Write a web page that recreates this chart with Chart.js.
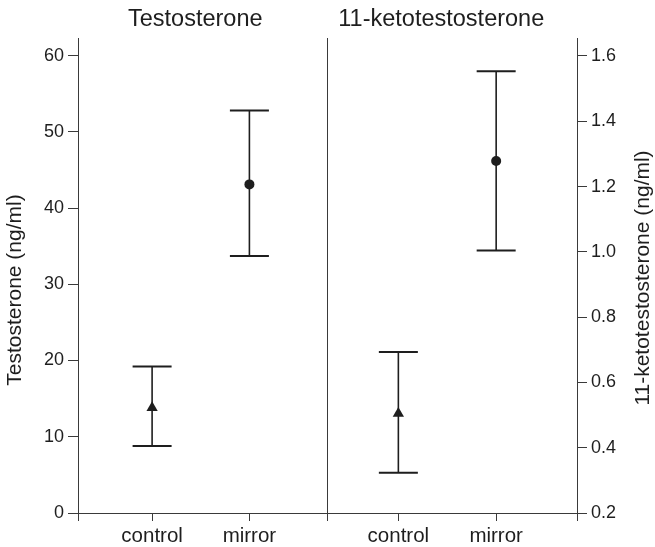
<!DOCTYPE html>
<html><head><meta charset="utf-8">
<script src="https://cdn.jsdelivr.net/npm/chart.js@4/dist/chart.umd.min.js"></script>
<style>html,body{margin:0;padding:0;background:#fff}#wrap{width:655px;height:547px}</style>
</head><body><div id="wrap"><canvas id="c" width="655" height="547"></canvas></div>
<script>
// ---- data ----
const categories = ['control', 'mirror'];
const panelTitles = ['Testosterone', '11-ketotestosterone'];
const axisTitles = ['Testosterone (ng/ml)', '11-ketotestosterone (ng/ml)'];
const leftX = [0.297, 0.687];
const rightX = [1.284, 1.676];
const xTickValues = [0, 0.297, 0.687, 1, 1.284, 1.676, 2];
const xTickLabels = ['', 'control', 'mirror', '', 'control', 'mirror', ''];
const testoMean = [13.8, 43.1];
const testoLow = [8.8, 33.7];
const testoHigh = [19.2, 52.8];
const ketoMean = [0.505, 1.278];
const ketoLow = [0.323, 1.004];
const ketoHigh = [0.693, 1.553];
const leftTicks = [0, 10, 20, 30, 40, 50, 60];
const rightTicks = [0.2, 0.4, 0.6, 0.8, 1.0, 1.2, 1.4, 1.6];
const markerStyles = ['triangle', 'circle'];

const INK = '#1e1e1e';
const AXIS = '#3a3a3a';
const FONT = "'Liberation Sans', Arial, Helvetica, sans-serif";

const errorBars = {
  id: 'errorBars',
  beforeDatasetsDraw(chart) {
    const ctx = chart.ctx;
    chart.data.datasets.forEach((ds, di) => {
      const meta = chart.getDatasetMeta(di);
      const ys = chart.scales[ds.yAxisID];
      ds.errLow.forEach((lo, i) => {
        const x = meta.data[i].x;
        const yl = ys.getPixelForValue(lo);
        const yh = ys.getPixelForValue(ds.errHigh[i]);
        ctx.save();
        ctx.strokeStyle = INK;
        ctx.lineWidth = 1.6;
        ctx.beginPath(); ctx.moveTo(x, yl); ctx.lineTo(x, yh); ctx.stroke();
        ctx.lineWidth = 2;
        ctx.beginPath();
        ctx.moveTo(x - 19.5, yl); ctx.lineTo(x + 19.5, yl);
        ctx.moveTo(x - 19.5, yh); ctx.lineTo(x + 19.5, yh);
        ctx.stroke();
        ctx.restore();
      });
    });
  }
};

const texts = {
  id: 'texts',
  afterDraw(chart) {
    const ctx = chart.ctx;
    const xs = chart.scales.x;
    ctx.save();
    ctx.fillStyle = INK;
    ctx.textAlign = 'center';
    ctx.textBaseline = 'middle';
    ctx.font = '23.5px ' + FONT;
    ctx.fillText(panelTitles[0], xs.getPixelForValue(0.47), 20);
    ctx.fillText(panelTitles[1], xs.getPixelForValue(1.456), 20);
    ctx.font = '21px ' + FONT;
    ctx.save();
    ctx.translate(15, 290);
    ctx.rotate(-Math.PI / 2);
    ctx.fillText(axisTitles[0], 0, 0);
    ctx.restore();
    ctx.save();
    ctx.translate(643, 278);
    ctx.rotate(-Math.PI / 2);
    ctx.fillText(axisTitles[1], 0, 0);
    ctx.restore();
    ctx.restore();
  }
};

new Chart(document.getElementById('c'), {
  type: 'scatter',
  data: {
    datasets: [
      {
        label: panelTitles[0],
        yAxisID: 'yL',
        data: leftX.map((x, i) => ({ x, y: testoMean[i] })),
        errLow: testoLow, errHigh: testoHigh,
        pointStyle: markerStyles,
        pointRadius: [6.5, 5],
        backgroundColor: INK, borderColor: INK, borderWidth: 0
      },
      {
        label: panelTitles[1],
        yAxisID: 'yR',
        data: rightX.map((x, i) => ({ x, y: ketoMean[i] })),
        errLow: ketoLow, errHigh: ketoHigh,
        pointStyle: markerStyles,
        pointRadius: [6.5, 5],
        backgroundColor: INK, borderColor: INK, borderWidth: 0
      }
    ]
  },
  options: {
    responsive: false,
    animation: false,
    layout: { padding: { top: 38, left: 0, right: 0, bottom: 0 } },
    plugins: { legend: { display: false }, tooltip: { enabled: false } },
    scales: {
      x: {
        type: 'linear', position: 'bottom', min: 0, max: 2,
        afterBuildTicks: s => { s.ticks = xTickValues.map(v => ({ value: v })); },
        afterFit: s => { s.height = 34; },
        ticks: {
          autoSkip: false, maxRotation: 0, padding: 3,
          callback: (v, i) => xTickLabels[i],
          color: INK, font: { family: FONT, size: 20.5 }
        },
        grid: {
          drawOnChartArea: true,
          color: c => (c.tick && c.tick.value === 1) ? AXIS : 'rgba(0,0,0,0)',
          tickColor: AXIS, tickLength: 8, lineWidth: 1
        },
        border: { color: AXIS, width: 1 }
      },
      yL: {
        type: 'linear', position: 'left', min: 0, max: 62.3,
        afterBuildTicks: s => { s.ticks = leftTicks.map(v => ({ value: v })); },
        afterFit: s => { s.width = 78; },
        ticks: { padding: 4, color: INK, font: { family: FONT, size: 18 }, callback: v => String(v) },
        grid: { drawOnChartArea: false, tickColor: AXIS, tickLength: 10 },
        border: { color: AXIS, width: 1 }
      },
      yR: {
        type: 'linear', position: 'right', min: 0.2, max: 1.655,
        afterBuildTicks: s => { s.ticks = rightTicks.map(v => ({ value: v })); },
        afterFit: s => { s.width = 78; },
        ticks: { padding: 4, color: INK, font: { family: FONT, size: 18 }, callback: v => v.toFixed(1) },
        grid: { drawOnChartArea: false, tickColor: AXIS, tickLength: 10 },
        border: { color: AXIS, width: 1 }
      }
    }
  },
  plugins: [errorBars, texts]
});
</script>
</body></html>
